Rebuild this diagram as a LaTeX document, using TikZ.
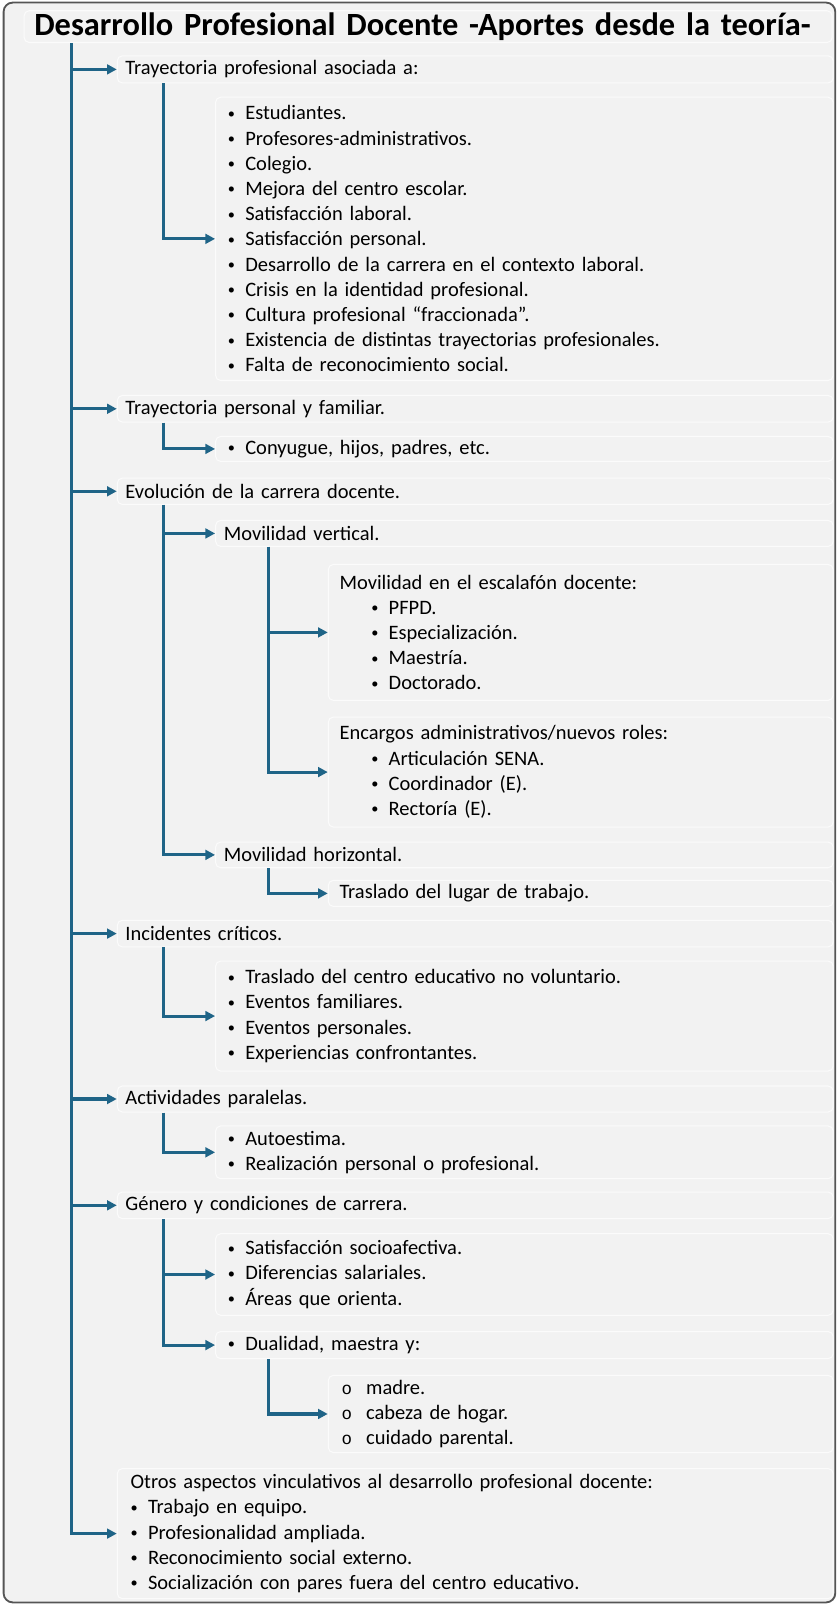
\documentclass[tikz,border=0pt]{standalone}
\usepackage{graphicx}
\usepackage{fontspec}
\setmainfont{Carlito}[WordSpace=0.8]
\newfontfamily\monofam{Liberation Mono}
\usetikzlibrary{arrows.meta}

\definecolor{bg}{HTML}{F2F2F2}
\definecolor{frameline}{HTML}{555555}
\definecolor{link}{HTML}{1F6487}
\definecolor{boxline}{HTML}{FBFBFB}

\newcommand\bodyfont{\fontsize{20}{24.6}\selectfont}
% one line of text, indented by #1
\newcommand\plainline[2]{\hspace*{#1pt}#2}
% small round bullet
\newcommand\smalldot{\raisebox{1.6pt}{\scalebox{0.7}{•}}}
% bulleted line: bullet at #1, text after it
\newcommand\dotline[2]{\hspace*{#1pt}\makebox[17pt][l]{\smalldot}#2}
% second-level line with a ring bullet
\newcommand\ringline[2]{\hspace*{#1pt}\makebox[24pt][l]{\monofam\fontsize{17}{17}\selectfont o}#2}

\tikzset{
  panel/.style={draw=boxline, line width=1pt, rounded corners=5pt, anchor=north west,
    inner sep=0pt, align=left, font=\bodyfont},
  lvlone/.style={panel, text width=699pt},
  lvltwo/.style={panel, text width=603pt},
  lvlthree/.style={panel, text width=493pt},
  conn/.style={draw=link, line width=3pt, -{Triangle[length=9.5pt,width=9.5pt]}},
}

\begin{document}
\begin{tikzpicture}[x=1pt, y=-1pt]
\useasboundingbox (0,0) rectangle (819,1568);
\draw[frameline, line width=1.8pt, fill=bg, rounded corners=9pt] (3.5,2.5) rectangle (815.5,1564.5);

% title
\node[panel, text width=789pt, minimum height=31pt] (title) at (23,10)
  {\hspace*{10pt}\resizebox{758pt}{!}{\bfseries Desarrollo Profesional Docente -Aportes desde la teoría-}};

% first branch
\node[lvlone, minimum height=26.5pt] (T1) at (114,54) {\plainline{8}{Trayectoria profesional asociada a:}};
\node[lvltwo, minimum height=276.6pt] (A1) at (210,94.4) {%
  \dotline{12}{Estudiantes.}\\
  \dotline{12}{Profesores-administrativos.}\\
  \dotline{12}{Colegio.}\\
  \dotline{12}{Mejora del centro escolar.}\\
  \dotline{12}{Satisfacción laboral.}\\
  \dotline{12}{Satisfacción personal.}\\
  \dotline{12}{Desarrollo de la carrera en el contexto laboral.}\\
  \dotline{12}{Crisis en la identidad profesional.}\\
  \dotline{12}{Cultura profesional “fraccionada”.}\\
  \dotline{12}{Existencia de distintas trayectorias profesionales.}\\
  \dotline{12}{Falta de reconocimiento social.}};

% second branch
\node[lvlone, minimum height=26pt] (T2) at (114,385.6) {\plainline{8}{Trayectoria personal y familiar.}};
\node[lvltwo, minimum height=24.4pt] (A2) at (210,425.6) {\dotline{12}{Conyugue, hijos, padres, etc.}};

% third branch
\node[lvlone, minimum height=25.7pt] (T3) at (114,466.3) {\plainline{8}{Evolución de la carrera docente.}};
\node[lvltwo, minimum height=25.4pt] (MovV) at (210,507.6) {\plainline{8}{Movilidad vertical.}};
\node[lvlthree, minimum height=132.7pt] (Esc) at (320,550.6) {%
  \plainline{11}{Movilidad en el escalafón docente:}\\
  \dotline{42}{PFPD.}\\
  \dotline{42}{Especialización.}\\
  \dotline{42}{Maestría.}\\
  \dotline{42}{Doctorado.}};
\node[lvlthree, minimum height=107.4pt] (Enc) at (320,699.6) {%
  \plainline{11}{Encargos administrativos/nuevos roles:}\\
  \dotline{42}{Articulación SENA.}\\
  \dotline{42}{Coordinador (E).}\\
  \dotline{42}{Rectoría (E).}};
\node[lvltwo, minimum height=25.1pt] (MovH) at (210,821.6) {\plainline{8}{Movilidad horizontal.}};
\node[lvlthree, minimum height=25.5pt] (Tras) at (320,859) {\plainline{11}{Traslado del lugar de trabajo.}};

% fourth branch
\node[lvlone, minimum height=26pt] (T4) at (114,898) {\plainline{8}{Incidentes críticos.}};
\node[lvltwo, minimum height=107.4pt] (Inc) at (210,937.8) {%
  \dotline{12}{Traslado del centro educativo no voluntario.}\\
  \dotline{12}{Eventos familiares.}\\
  \dotline{12}{Eventos personales.}\\
  \dotline{12}{Experiencias confrontantes.}};

% fifth branch
\node[lvlone, minimum height=25.4pt] (T5) at (114,1059.8) {\plainline{8}{Actividades paralelas.}};
\node[lvltwo, minimum height=51.5pt] (Act) at (210,1098.8) {%
  \dotline{12}{Autoestima.}\\
  \dotline{12}{Realización personal o profesional.}};

% sixth branch
\node[lvlone, minimum height=26pt] (T6) at (114,1163.3) {\plainline{8}{Género y condiciones de carrera.}};
\node[lvltwo, minimum height=79.7pt] (Gen) at (210,1204) {%
  \dotline{12}{Satisfacción socioafectiva.}\\
  \dotline{12}{Diferencias salariales.}\\
  \dotline{12}{Áreas que orienta.}};
\node[lvltwo, minimum height=26.5pt] (Dual) at (210,1299.5) {\dotline{12}{Dualidad, maestra y:}};
\node[lvlthree, minimum height=75.4pt] (Hij) at (320,1342.3) {%
  \ringline{13}{madre.}\\
  \ringline{13}{cabeza de hogar.}\\
  \ringline{13}{cuidado parental.}};

% closing panel
\node[lvlone, minimum height=127pt] (Otros) at (114,1433.3) {%
  \plainline{13}{Otros aspectos vinculativos al desarrollo profesional docente:}\\
  \dotline{13}{Trabajo en equipo.}\\
  \dotline{13}{Profesionalidad ampliada.}\\
  \dotline{13}{Reconocimiento social externo.}\\
  \dotline{13}{Socialización con pares fuera del centro educativo.}};

% trunk
\foreach \n in {T1,T2,T3,T4,T5,T6,Otros}
  \draw[conn] ([xshift=47pt]title.south west) |- (\n.west);

% second-level connectors
\draw[conn] ([xshift=46pt]T1.south west) |- (A1.west);
\draw[conn] ([xshift=46pt]T2.south west) |- (A2.west);
\draw[conn] ([xshift=46pt]T3.south west) |- (MovV.west);
\draw[conn] ([xshift=46pt]T3.south west) |- (MovH.west);
\draw[conn] ([xshift=46pt]T4.south west) |- (Inc.west);
\draw[conn] ([xshift=46pt]T5.south west) |- (Act.west);
\draw[conn] ([xshift=46pt]T6.south west) |- (Gen.west);
\draw[conn] ([xshift=46pt]T6.south west) |- (Dual.west);

% third-level connectors
\draw[conn] ([xshift=52pt]MovV.south west) |- (Esc.west);
\draw[conn] ([xshift=52pt]MovV.south west) |- (Enc.west);
\draw[conn] ([xshift=52pt]MovH.south west) |- (Tras.west);
\draw[conn] ([xshift=52pt]Dual.south west) |- (Hij.west);
\end{tikzpicture}
\end{document}
